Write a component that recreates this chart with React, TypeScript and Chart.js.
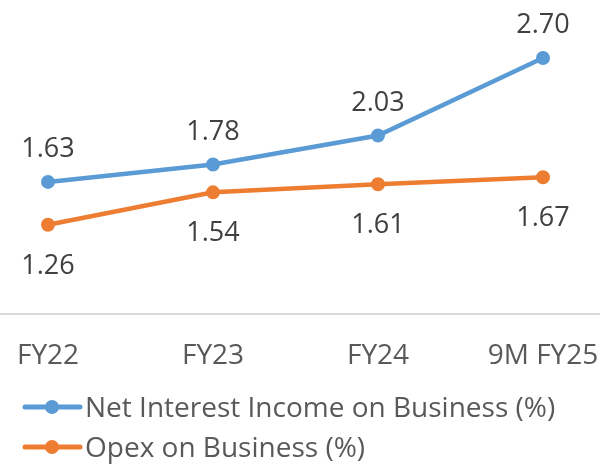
import React, { useEffect, useRef } from "react";
import { Chart, registerables } from "chart.js";

Chart.register(...registerables);

const categories = ["FY22", "FY23", "FY24", "9M FY25"];
const niiValues = [1.63, 1.78, 2.03, 2.7];
const opexValues = [1.26, 1.54, 1.61, 1.67];
const seriesNames = ["Net Interest Income on Business (%)", "Opex on Business (%)"];
const seriesColors = ["#5B9BD5", "#ED7D31"];

const FONT = "'Open Sans'";

const labelPlugin = {
  id: "valueLabels",
  afterDatasetsDraw(chart: any) {
    const ctx = chart.ctx;
    ctx.save();
    ctx.font = `27px ${FONT}`;
    ctx.fillStyle = "#404040";
    ctx.textAlign = "center";
    ctx.textBaseline = "alphabetic";
    chart.data.datasets.forEach((ds: any, di: number) => {
      const meta = chart.getDatasetMeta(di);
      meta.data.forEach((pt: any, i: number) => {
        const v = ds.data[i].y;
        const dy = di === 0 ? -25 : 49;
        ctx.fillText(v.toFixed(2), pt.x, pt.y + dy);
      });
    });
    ctx.restore();
  },
};

const legendPlugin = {
  id: "lineLegend",
  afterDraw(chart: any) {
    const ctx = chart.ctx;
    ctx.save();
    const rows = [407, 447];
    chart.data.datasets.forEach((ds: any, i: number) => {
      const cy = rows[i];
      ctx.strokeStyle = ds.borderColor;
      ctx.lineWidth = 5;
      ctx.lineCap = "round";
      ctx.beginPath();
      ctx.moveTo(25, cy);
      ctx.lineTo(80, cy);
      ctx.stroke();
      ctx.fillStyle = ds.borderColor;
      ctx.beginPath();
      ctx.arc(52, cy, 7, 0, Math.PI * 2);
      ctx.fill();
      ctx.fillStyle = "#595959";
      ctx.font = `28px ${FONT}`;
      ctx.textAlign = "left";
      ctx.textBaseline = "alphabetic";
      ctx.fillText(ds.label, 85, cy + 10);
    });
    ctx.restore();
  },
};

export default function App() {
  const ref = useRef<HTMLCanvasElement | null>(null);

  useEffect(() => {
    if (!ref.current) return;
    const chart = new Chart(ref.current, {
      type: "line",
      data: {
        datasets: [niiValues, opexValues].map((vals, di) => ({
          label: seriesNames[di],
          data: vals.map((v, i) => ({ x: i, y: v })),
          borderColor: seriesColors[di],
          backgroundColor: seriesColors[di],
          borderWidth: 4.5,
          pointRadius: 6,
          pointBorderWidth: 2,
          pointBackgroundColor: seriesColors[di],
          pointBorderColor: seriesColors[di],
          tension: 0,
          clip: false as any,
        })),
      },
      options: {
        animation: false,
        responsive: false,
        maintainAspectRatio: false,
        layout: { padding: 0, autoPadding: false },
        plugins: {
          legend: { display: false },
          tooltip: { enabled: false },
        },
        scales: {
          x: {
            type: "linear",
            min: -48 / 165,
            max: 552 / 165,
            afterBuildTicks: (scale: any) => {
              scale.ticks = categories.map((_, i) => ({ value: i }));
            },
            afterFit: (scale: any) => {
              scale.height = 151;
              scale.paddingLeft = 0;
              scale.paddingRight = 0;
            },
            grid: { display: false, drawTicks: false },
            border: { display: true, color: "#D9D9D9", width: 2 },
            ticks: {
              autoSkip: false,
              maxRotation: 0,
              padding: 25,
              color: "#595959",
              font: { family: "Open Sans", size: 28 },
              callback: (v: any) => categories[v as number] ?? "",
            },
          },
          y: {
            display: false,
            min: 0.49,
            max: 3.2,
          },
        },
      },
      plugins: [labelPlugin, legendPlugin],
    });
    return () => chart.destroy();
  }, []);

  return (
    <div style={{ position: "fixed", left: 0, top: 0, width: 600, height: 465, background: "#fff" }}>
      <canvas ref={ref} width={600} height={465} style={{ width: 600, height: 465, display: "block" }} />
    </div>
  );
}
